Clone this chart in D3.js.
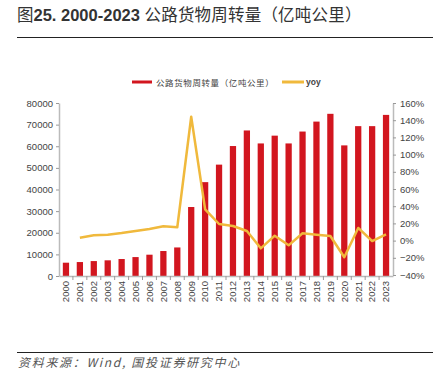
<!DOCTYPE html>
<html>
<head>
<meta charset="UTF-8">
<script src="https://cdnjs.cloudflare.com/ajax/libs/d3/7.8.5/d3.min.js"></script>
<style>
html, body { margin: 0; padding: 0; background: #fff; }
svg { display: block; font-family: "Noto Sans CJK SC", "Liberation Sans", sans-serif; }
</style>
</head>
<body>
<script>
// 公路货物周转量 (亿吨公里) and yoy (%)
var years = ["2000","2001","2002","2003","2004","2005","2006","2007","2008","2009","2010","2011",
             "2012","2013","2014","2015","2016","2017","2018","2019","2020","2021","2022","2023"];
var turnover = [6150, 6450, 6900, 7250, 7850, 8750, 9850, 11550, 13200, 31900, 43400, 51500,
                60100, 67300, 61300, 64900, 61300, 66800, 71400, 75000, 60400, 69300, 69300, 74500];
var yoy = [null, 3.4, 6.1, 6.9, 8.8, 11.2, 13.5, 16.6, 15.5, 144, 36.4, 19.3,
           17, 11.2, -9, 5.7, -5.5, 8.5, 6.9, 5.3, -19.4, 14.7, -0.5, 7.3];
var leftTicks = [0, 10000, 20000, 30000, 40000, 50000, 60000, 70000, 80000];
var rightTicks = [-40, -20, 0, 20, 40, 60, 80, 100, 120, 140, 160];

var width = 443, height = 386;
var barColor = "#d2161f", lineColor = "#f0b93c";

var svg = d3.select("body").append("svg")
    .attr("width", width)
    .attr("height", height);

// title + rules
var title = svg.append("text")
    .attr("x", 17).attr("y", 21)
    .attr("font-size", 16.5).attr("fill", "#333");
title.append("tspan").text("图");
title.append("tspan").attr("font-weight", "bold")
    .attr("font-family", "'Liberation Sans', Arial, sans-serif").text("25. 2000-2023 ");
title.append("tspan").attr("letter-spacing", 0.2).text("公路货物周转量（亿吨公里）");

svg.append("line").attr("x1", 17).attr("x2", 433).attr("y1", 37.5).attr("y2", 37.5)
    .attr("stroke", "#222").attr("stroke-width", 1.2);
svg.append("line").attr("x1", 17).attr("x2", 433).attr("y1", 352.5).attr("y2", 352.5)
    .attr("stroke", "#222").attr("stroke-width", 1.2);
svg.append("text")
    .attr("x", 18).attr("y", 367)
    .attr("font-size", 12).attr("font-style", "italic").attr("fill", "#555")
    .attr("letter-spacing", 1.7)
    .text("资料来源：Wind, 国投证券研究中心");

var plotL = 59, plotR = 393, plotT = 103, plotB = 276;

var x = d3.scaleBand().domain(years).range([plotL, plotR]).paddingInner(0.55).paddingOuter(0.275);
var y = d3.scaleLinear().domain([0, 80000]).range([plotB, plotT]);
var y2 = d3.scaleLinear().domain([-40, 160]).range([plotB - 1, plotT]);

// bars
svg.append("g").selectAll("rect")
    .data(turnover)
    .enter().append("rect")
    .attr("x", function(d, i) { return x(years[i]); })
    .attr("width", x.bandwidth())
    .attr("y", function(d) { return y(d); })
    .attr("height", function(d) { return plotB - y(d); })
    .attr("fill", barColor);

// axes
function styleAxis(g) {
    g.select(".domain").attr("stroke", "#bbb").attr("stroke-width", 1.5);
    g.selectAll(".tick line").attr("stroke", "#999");
    g.selectAll(".tick text").attr("fill", "#444").attr("font-size", 9.5)
        .attr("font-family", "'Liberation Sans', Arial, sans-serif");
}

svg.append("g")
    .attr("transform", "translate(" + plotL + ",0)")
    .call(d3.axisLeft(y).tickValues(leftTicks).tickSize(3).tickPadding(3).tickSizeOuter(0)
        .tickFormat(d3.format("d")))
    .call(styleAxis);

svg.append("g")
    .attr("transform", "translate(" + plotR + ",0)")
    .call(d3.axisRight(y2).tickValues(rightTicks).tickSize(3).tickPadding(4).tickSizeOuter(0)
        .tickFormat(function(d) { return (d < 0 ? "\u2212" + (-d) : d) + "%"; }))
    .call(styleAxis);

var xAxis = svg.append("g")
    .attr("transform", "translate(0," + plotB + ")")
    .call(d3.axisBottom(x).tickSize(0).tickPadding(4))
    .call(styleAxis);
xAxis.selectAll(".tick text")
    .attr("transform", "rotate(-90)")
    .attr("text-anchor", "end")
    .attr("dy", "0.35em")
    .attr("y", 0)
    .attr("x", -5);
// tick marks between categories
xAxis.selectAll("line.sep")
    .data(years.slice(1))
    .enter().append("line")
    .attr("class", "sep")
    .attr("x1", function(d) { return x(d) - x.step() * x.paddingInner() / 2; })
    .attr("x2", function(d) { return x(d) - x.step() * x.paddingInner() / 2; })
    .attr("y1", 0).attr("y2", 4)
    .attr("stroke", "#999");

// yoy line
var line = d3.line()
    .defined(function(d) { return d != null; })
    .x(function(d, i) { return x(years[i]) + x.bandwidth() / 2; })
    .y(function(d) { return y2(d); });

svg.append("path")
    .datum(yoy)
    .attr("d", line)
    .attr("fill", "none")
    .attr("stroke", lineColor)
    .attr("stroke-width", 2.5)
    .attr("stroke-linejoin", "round");

// legend
var legend = svg.append("g");
legend.append("line").attr("x1", 132).attr("x2", 152).attr("y1", 82).attr("y2", 82)
    .attr("stroke", barColor).attr("stroke-width", 3);
legend.append("text").attr("x", 156).attr("y", 85.5)
    .attr("font-size", 8.5).attr("fill", "#444").attr("letter-spacing", 0.6)
    .text("公路货物周转量（亿吨公里）");
legend.append("line").attr("x1", 282).attr("x2", 304).attr("y1", 82).attr("y2", 82)
    .attr("stroke", lineColor).attr("stroke-width", 3);
legend.append("text").attr("x", 306).attr("y", 85)
    .attr("font-size", 8.5).attr("fill", "#444").attr("font-weight", "bold")
    .attr("font-family", "'Liberation Sans', Arial, sans-serif")
    .text("yoy");
</script>
</body>
</html>
